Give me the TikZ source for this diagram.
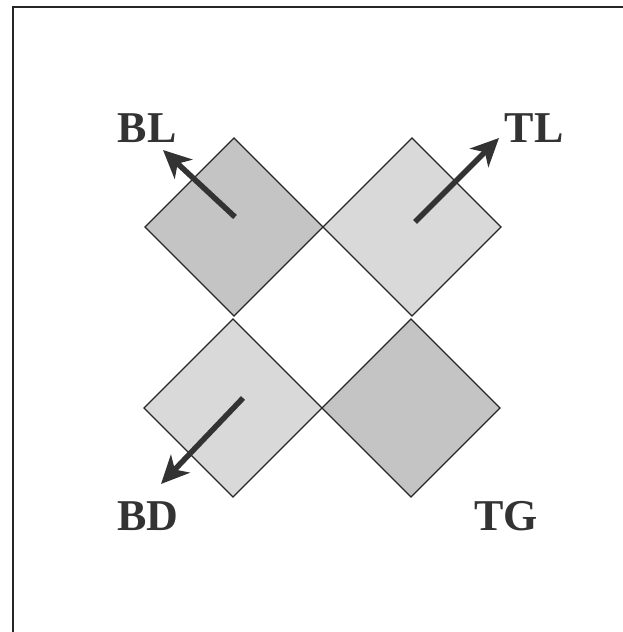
\documentclass[tikz,border=0pt]{standalone}
\usepackage{fontspec}
\setmainfont{Liberation Serif}
\usetikzlibrary{arrows.meta}
\begin{document}
\begin{tikzpicture}[x=1pt,y=-1pt,
  cell/.style={draw=black!85,line width=1.3pt,line join=miter},
  darkcell/.style={cell,fill=black!23},
  lightcell/.style={cell,fill=black!15},
  motion/.style={line width=5.5pt,draw=black!80,-{Stealth[length=28pt,width=26pt,inset=8pt]}},
  lbl/.style={font=\fontsize{44}{48}\selectfont\bfseries,text=black!80,inner sep=0pt}]
\useasboundingbox (0,0) rectangle (623,632);
\draw[line width=2pt,black!85] (12.5,632) -- (12.5,6.5) -- (623,6.5);
% diamonds
\path[darkcell] (234,138) -- (323,227) -- (234,316) -- (145,227) -- cycle;
\path[lightcell] (412,138) -- (501,227) -- (412,316) -- (323,227) -- cycle;
\path[lightcell] (233,319) -- (322,408) -- (233,497) -- (144,408) -- cycle;
\path[darkcell] (411,319) -- (500,408) -- (411,497) -- (322,408) -- cycle;
% labels
\node[lbl] (BL) at (147,128) {BL};
\node[lbl] (TL) at (534,128) {TL};
\node[lbl] (BD) at (148,516) {BD};
\node[lbl] (TG) at (506,516) {TG};
% arrows
\coordinate (sBL) at (235,217);
\coordinate (eBL) at (163,150);
\coordinate (sTL) at (415,222);
\coordinate (eTL) at (499,138);
\coordinate (sBD) at (243,398);
\coordinate (eBD) at (161,484);
\draw[motion] (sBL) -- (eBL);
\draw[motion] (sTL) -- (eTL);
\draw[motion] (sBD) -- (eBD);
\end{tikzpicture}
\end{document}
